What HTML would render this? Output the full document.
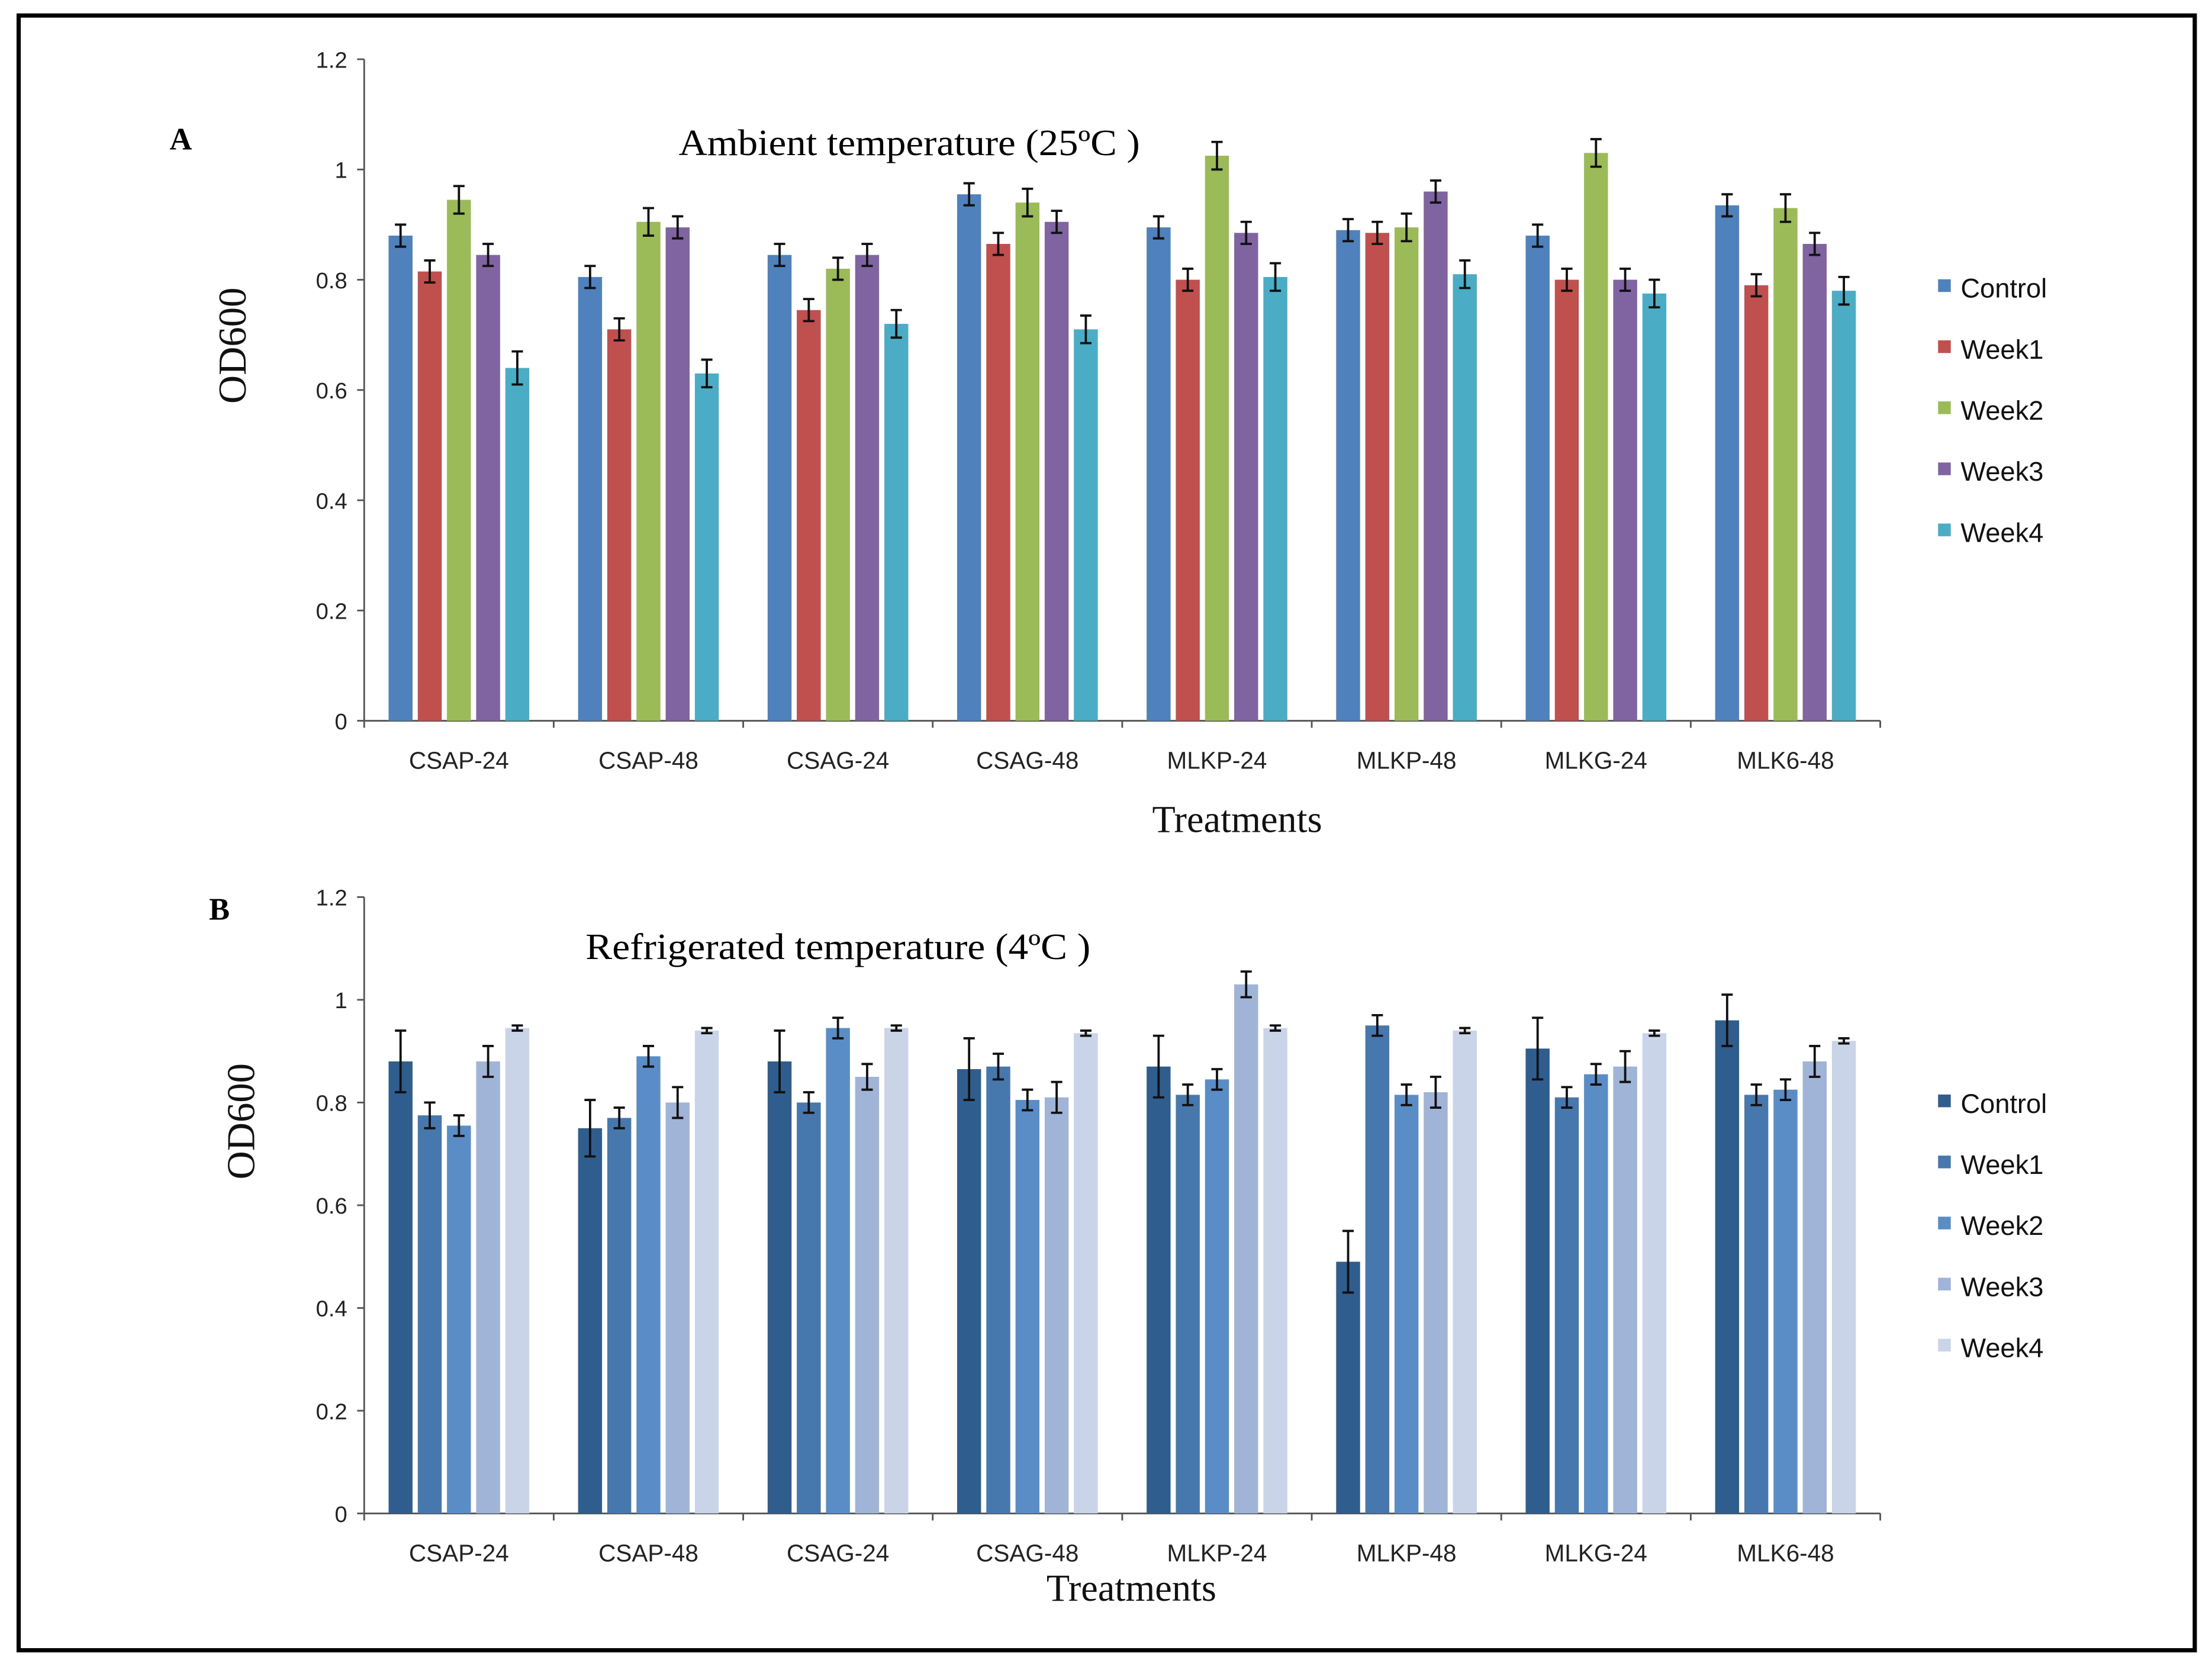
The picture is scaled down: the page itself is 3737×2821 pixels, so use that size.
<!DOCTYPE html>
<html><head><meta charset="utf-8"><style>
html,body{margin:0;padding:0;background:#fff;}
svg{display:block;}
</style></head><body>
<svg id="fig" width="3737" height="2821" viewBox="0 0 1568 1184" xmlns="http://www.w3.org/2000/svg">
<rect x="13" y="11" width="1543" height="1159" fill="#fff" stroke="#000" stroke-width="3"/>
<text x="120" y="106" font-family="Liberation Serif, serif" font-weight="bold" font-size="22">A</text>
<text x="481" y="110" textLength="327" lengthAdjust="spacingAndGlyphs" font-family="Liberation Serif, serif" font-size="26">Ambient temperature (25ºC )</text>
<text x="148" y="652" font-family="Liberation Serif, serif" font-weight="bold" font-size="22">B</text>
<text x="415" y="680" textLength="358" lengthAdjust="spacingAndGlyphs" font-family="Liberation Serif, serif" font-size="26">Refrigerated temperature (4ºC )</text>
<g id="chartA"></g><g id="chartB"></g>
</svg>
<script>
const categories = ["CSAP-24","CSAP-48","CSAG-24","CSAG-48","MLKP-24","MLKP-48","MLKG-24","MLK6-48"];
const seriesNames = ["Control","Week1","Week2","Week3","Week4"];
const yTicks = [0,0.2,0.4,0.6,0.8,1,1.2];
const yTickLabels = ["0","0.2","0.4","0.6","0.8","1","1.2"];
const aValues = [
 [0.88,0.815,0.945,0.845,0.64],
 [0.805,0.71,0.905,0.895,0.63],
 [0.845,0.745,0.82,0.845,0.72],
 [0.955,0.865,0.94,0.905,0.71],
 [0.895,0.80,1.025,0.885,0.805],
 [0.89,0.885,0.895,0.96,0.81],
 [0.88,0.80,1.03,0.80,0.775],
 [0.935,0.79,0.93,0.865,0.78]
];
const aErrors = [
 [0.02,0.02,0.025,0.02,0.03],
 [0.02,0.02,0.025,0.02,0.025],
 [0.02,0.02,0.02,0.02,0.025],
 [0.02,0.02,0.025,0.02,0.025],
 [0.02,0.02,0.025,0.02,0.025],
 [0.02,0.02,0.025,0.02,0.025],
 [0.02,0.02,0.025,0.02,0.025],
 [0.02,0.02,0.025,0.02,0.025]
];
const bValues = [
 [0.88,0.775,0.755,0.88,0.945],
 [0.75,0.77,0.89,0.80,0.94],
 [0.88,0.80,0.945,0.85,0.945],
 [0.865,0.87,0.805,0.81,0.935],
 [0.87,0.815,0.845,1.03,0.945],
 [0.49,0.95,0.815,0.82,0.94],
 [0.905,0.81,0.855,0.87,0.935],
 [0.96,0.815,0.825,0.88,0.92]
];
const bErrors = [
 [0.06,0.025,0.02,0.03,0.005],
 [0.055,0.02,0.02,0.03,0.005],
 [0.06,0.02,0.02,0.025,0.005],
 [0.06,0.025,0.02,0.03,0.005],
 [0.06,0.02,0.02,0.025,0.005],
 [0.06,0.02,0.02,0.03,0.005],
 [0.06,0.02,0.02,0.03,0.005],
 [0.05,0.02,0.02,0.03,0.005]
];
const aColors = ["#4f81bd","#c0504d","#9bbb59","#8064a2","#4bacc6"];
const bColors = ["#2f5d8e","#4677ad","#5a8dc6","#9fb4d6","#cad4e8"];
const NS = "http://www.w3.org/2000/svg";
function mk(parent, tag, attrs){const e=document.createElementNS(NS,tag);for(const k in attrs)e.setAttribute(k,attrs[k]);parent.appendChild(e);return e;}

function drawChart(g, cfg){
  const {x0,x1,yZero,yTop,values,errors,colors,prefix,legendY,xTitleX,xTitleY,yTitleX,yTitleY} = cfg;
  const yMax = 1.2;
  const yScale = v => yZero - (yZero - yTop) * v / yMax;
  const groupW = (x1 - x0) / categories.length;
  const step = groupW * 0.154;
  const barW = step * 0.82;
  const ya = mk(g,"line",{x1:x0,y1:yTop,x2:x0,y2:yZero,stroke:"#555","stroke-width":1.2});
  
  
  yTicks.forEach((t,i)=>{
    const y=yScale(t);
    const tk=mk(g,"line",{x1:x0-5,y1:y,x2:x0,y2:y,stroke:"#555","stroke-width":1.2});
    
    
    const tl=mk(g,"text",{x:x0-12,y:y+6,"text-anchor":"end","font-family":"Liberation Sans, sans-serif","font-size":16,fill:"#222"});
    tl.textContent=yTickLabels[i];
    
    
  });
  const xa = mk(g,"line",{x1:x0,y1:yZero,x2:x1,y2:yZero,stroke:"#555","stroke-width":1.2});
  
  
  for(let c=0;c<=categories.length;c++){
    const tx=x0+c*groupW;
    const t=mk(g,"line",{x1:tx,y1:yZero,x2:tx,y2:yZero+5,stroke:"#555","stroke-width":1.2});
    
    
  }
  categories.forEach((cat,c)=>{
    const cx = x0 + (c+0.5)*groupW;
    const lbl=mk(g,"text",{x:cx,y:yZero+34,"text-anchor":"middle","font-family":"Liberation Sans, sans-serif","font-size":17,fill:"#222"});
    lbl.textContent=cat;
    
    
    seriesNames.forEach((s,si)=>{
      const bx = cx + (si-2)*step;
      const v = values[c][si], e = errors[c][si];
      const r=mk(g,"rect",{x:bx-barW/2,y:yScale(v),width:barW,height:yZero-yScale(v),fill:colors[si]});
      
      
      const eg=mk(g,"path",{d:`M${bx},${yScale(v+e)}V${yScale(v-e)}M${bx-4},${yScale(v+e)}H${bx+4}M${bx-4},${yScale(v-e)}H${bx+4}`,stroke:"#111","stroke-width":1.6,fill:"none"});
      
      
    });
  });
  seriesNames.forEach((s,si)=>{
    const ly = legendY + si*43.3;
    const lg=mk(g,"g",{});
    
    
    mk(lg,"rect",{x:1374,y:ly-6,width:9,height:9,fill:colors[si]});
    const t=mk(lg,"text",{x:1390,y:ly+7,"font-family":"Liberation Sans, sans-serif","font-size":19,fill:"#111"});
    t.textContent=s;
  });
  const xt=mk(g,"text",{x:xTitleX,y:xTitleY,"text-anchor":"middle","font-family":"Liberation Serif, serif","font-size":27,fill:"#111"});
  xt.textContent="Treatments";
  
  
  const yt=mk(g,"text",{x:0,y:0,"text-anchor":"middle","font-family":"Liberation Serif, serif","font-size":28,fill:"#111",transform:`translate(${yTitleX},${yTitleY}) rotate(-90)`});
  yt.textContent="OD600";
  
  
}
drawChart(document.getElementById('chartA'),{x0:258,x1:1333,yZero:511,yTop:42,values:aValues,errors:aErrors,colors:aColors,prefix:'a',legendY:204,xTitleX:877,xTitleY:590,yTitleX:174,yTitleY:245});
drawChart(document.getElementById('chartB'),{x0:258,x1:1333,yZero:1073,yTop:636,values:bValues,errors:bErrors,colors:bColors,prefix:'b',legendY:782,xTitleX:802,xTitleY:1135,yTitleX:180,yTitleY:795});
</script>
</body></html>
